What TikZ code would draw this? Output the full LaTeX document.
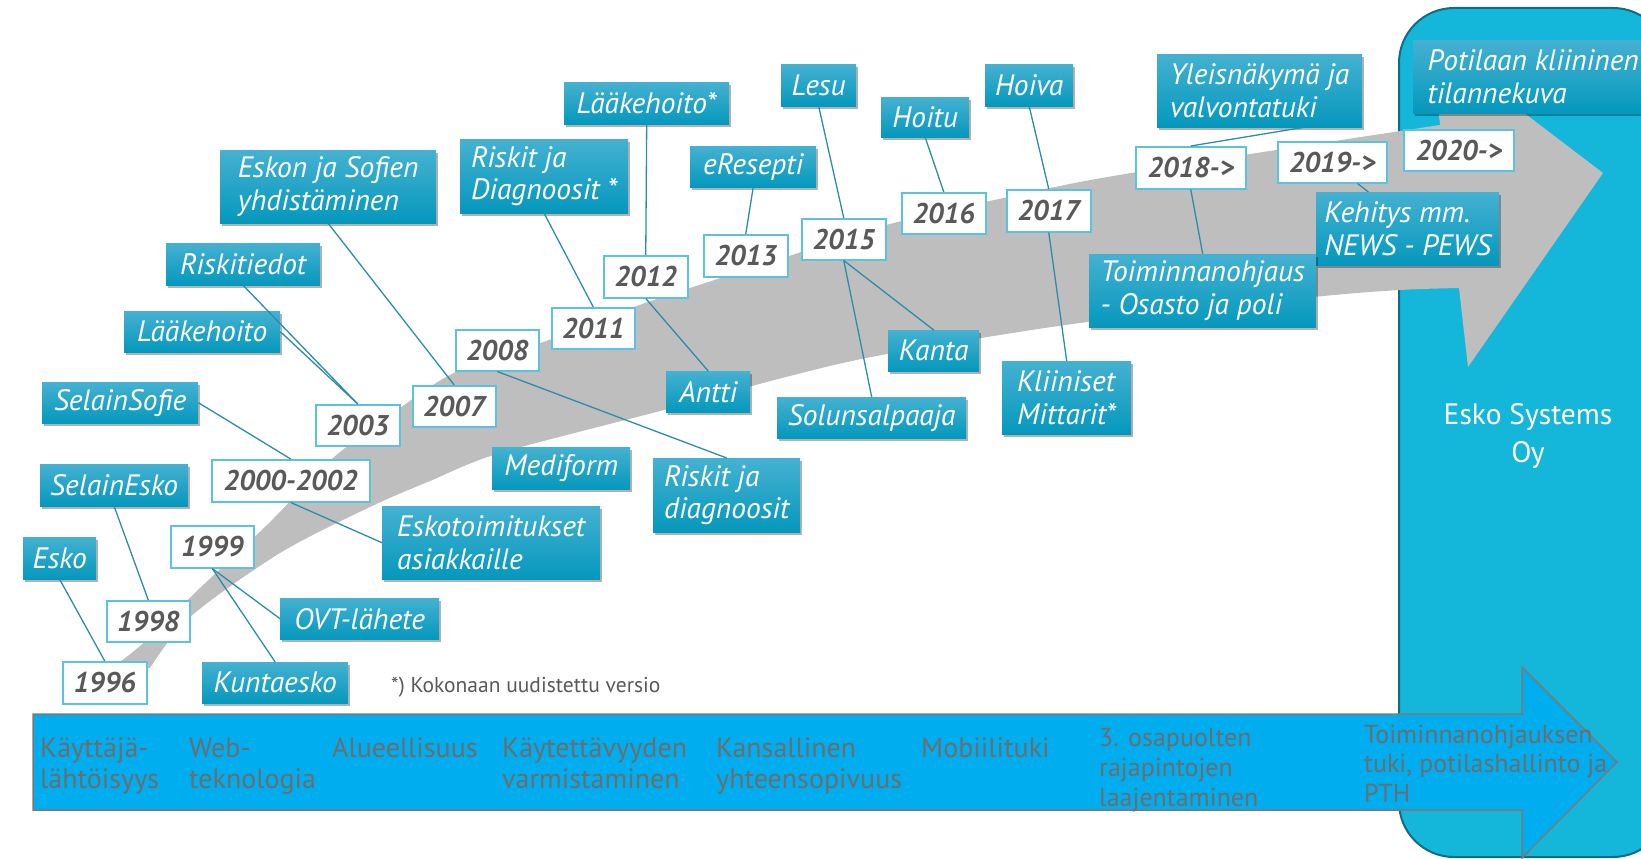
\documentclass[tikz,border=0pt]{standalone}
\usepackage{fontspec}
\setmainfont{PT Sans}
\usetikzlibrary{positioning, shadows}

\definecolor{lbltop}{HTML}{45B1D1}
\definecolor{lblbot}{HTML}{0498BD}
\definecolor{yrline}{HTML}{5BC3DF}
\definecolor{yrtext}{HTML}{595959}
\definecolor{tieline}{HTML}{2C8DA6}
\definecolor{bandgray}{HTML}{BEBEBE}
\definecolor{firmfill}{HTML}{14B6DA}
\definecolor{firmline}{HTML}{0F6E86}
\definecolor{barfill}{HTML}{00AEEF}
\definecolor{barline}{HTML}{7A7A7A}
\definecolor{bartext}{HTML}{6D6D6D}

\begin{document}
\begin{tikzpicture}[x=1pt, y=-1pt,
        lbl/.style = {rectangle, anchor=north west, inner sep=0pt, align=left,
                      top color=lbltop, bottom color=lblbot, text=white,
                      font=\fontsize{29.5}{32.5}\selectfont\itshape,
                      drop shadow={shadow xshift=2pt, shadow yshift=-3pt, fill=black, opacity=.3}},
         yr/.style = {rectangle, anchor=north west, inner sep=0pt, draw=yrline, line width=1.5pt,
                      fill=white, text=yrtext, font=\fontsize{28.5}{30}\selectfont\bfseries\itshape},
        tie/.style = {draw=tieline, line width=1.3pt},
      theme/.style = {anchor=base west, inner sep=0pt, align=left, text=bartext,
                      font=\fontsize{28}{31}\selectfont},
       firm/.style = {align=center, text=white, font=\fontsize{29.5}{38}\selectfont},
       note/.style = {anchor=west, inner sep=0pt, text=yrtext, font=\fontsize{21.5}{24}\selectfont}
                        ]
\useasboundingbox (0,0) rectangle (1641,859);
\clip (0,0) rectangle (1641,859);

\draw[fill=firmfill, draw=firmline, line width=2pt, rounded corners=55pt] (1399,8) rectangle (1668,857);

\fill[bandgray] plot[smooth, tension=0.5] coordinates {(112,668) (147,640) (200,588) (267,525) (333,458) (400,408) (456,372) (549,340) (648,302) (786,257) (886,225) (1050,188) (1137,172) (1276,150) (1440,125)}
   -- (1431,42) -- (1603,173) -- (1468,367) -- (1459,288)
   -- plot[smooth, tension=0.5] coordinates {(1459,288) (1400,290) (1314,297) (1080,323) (882,355) (786,377) (664,410) (500,453) (430,481) (370,507) (280,553) (190,617) (150,668)} -- cycle;

\draw[fill=barfill, draw=barline, line width=1.5pt] (33,714) -- (1522,714) -- (1522,667) -- (1617,762) -- (1522,858) -- (1522,810) -- (33,810) -- cycle;

\node[theme] (kaytto)  at (40,788)   {Käyttäjä-\\lähtöisyys};
\node[theme] (web)     at (189,788)  {Web-\\teknologia};
\node[theme] (alue)    at (332,757)  {Alueellisuus};
\node[theme] (kaytett) at (502,788)  {Käytettävyyden\\varmistaminen};
\node[theme] (kansal)  at (716,788)  {Kansallinen\\yhteensopivuus};
\node[theme] (mobiili) at (921,757)  {Mobiilituki};
\node[theme, font=\fontsize{26}{30}\selectfont] (rajap) at (1099,806) {3. osapuolten\\rajapintojen\\laajentaminen};
\node[theme, font=\fontsize{26}{29.5}\selectfont] (toimtuki) at (1364,802) {Toiminnanohjauksen\\tuki, potilashallinto ja\\PTH};

\node[firm] (firmname) at (1528,436) {Esko Systems\\Oy};
\node[note] (footnote) at (391,687) {*) Kokonaan uudistettu versio};

\node[yr, minimum width=84,  minimum height=42] (y1996) at (62,661)   {1996};
\node[yr, minimum width=83,  minimum height=41] (y1998) at (106,600)  {1998};
\node[yr, minimum width=83,  minimum height=42] (y1999) at (170,525)  {1999};
\node[yr, minimum width=158, minimum height=42] (y2000) at (211,459)  {2000-2002};
\node[yr, minimum width=84,  minimum height=41] (y2003) at (315,404)  {2003};
\node[yr, minimum width=83,  minimum height=41] (y2007) at (412,385)  {2007};
\node[yr, minimum width=83,  minimum height=41] (y2008) at (455,329)  {2008};
\node[yr, minimum width=83,  minimum height=41] (y2011) at (551,307)  {2011};
\node[yr, minimum width=84,  minimum height=42] (y2012) at (603,255)  {2012};
\node[yr, minimum width=84,  minimum height=42] (y2013) at (703,234)  {2013};
\node[yr, minimum width=84,  minimum height=41] (y2015) at (801,218)  {2015};
\node[yr, minimum width=84,  minimum height=41] (y2016) at (901,192)  {2016};
\node[yr, minimum width=84,  minimum height=42] (y2017) at (1006,189) {2017};
\node[yr, minimum width=110, minimum height=42] (y2018) at (1135,146) {2018->};
\node[yr, minimum width=109, minimum height=41] (y2019) at (1277,141) {2019->};
\node[yr, minimum width=110, minimum height=41] (y2020) at (1403,129) {2020->};

\node[lbl, minimum width=73,  minimum height=42] (esko)        at (23,537)   {Esko};
\node[lbl, minimum width=148, minimum height=42] (selesko)     at (40,464)   {SelainEsko};
\node[lbl, minimum width=156, minimum height=41] (selsofie)    at (42,382)   {SelainSofie};
\node[lbl, minimum width=156, minimum height=41] (laake)       at (124,311)  {Lääkehoito};
\node[lbl, minimum width=154, minimum height=42] (riskit)      at (166,243)  {Riskitiedot};
\node[lbl, minimum width=216, minimum height=73] (eskonsofien) at (220,150)  {Eskon ja Sofien\\yhdistäminen};
\node[lbl, minimum width=168, minimum height=74] (riskdiag)    at (460,139)  {Riskit ja\\Diagnoosit *};
\node[lbl, minimum width=165, minimum height=42] (laakeuusi)   at (564,82)   {Lääkehoito*};
\node[lbl, minimum width=126, minimum height=41] (eresepti)    at (690,146)  {eResepti};
\node[lbl, minimum width=75,  minimum height=42] (lesu)        at (781,64)   {Lesu};
\node[lbl, minimum width=88,  minimum height=40] (hoitu)       at (881,97)   {Hoitu};
\node[lbl, minimum width=88,  minimum height=42] (hoiva)       at (985,64)   {Hoiva};
\node[lbl, minimum width=205, minimum height=73] (yleis)       at (1157,54)  {Yleisnäkymä ja\\valvontatuki};
\node[lbl, minimum width=240, minimum height=73] (potilas)     at (1413,40)  {Potilaan kliininen\\tilannekuva};
\node[lbl, minimum width=183, minimum height=73] (kehitys)     at (1316,192) {Kehitys mm.\\NEWS - PEWS};
\node[lbl, minimum width=227, minimum height=73] (toim)        at (1089,254) {Toiminnanohjaus\\- Osasto ja poli};
\node[lbl, minimum width=129, minimum height=73] (kliiniset)   at (1002,361) {Kliiniset\\Mittarit*};
\node[lbl, minimum width=91,  minimum height=41] (kanta)       at (888,330)  {Kanta};
\node[lbl, minimum width=189, minimum height=41] (solu)        at (777,397)  {Solunsalpaaja};
\node[lbl, minimum width=84,  minimum height=41] (antti)       at (666,371)  {Antti};
\node[lbl, minimum width=147, minimum height=74] (riskdiag2)   at (653,458)  {Riskit ja\\diagnoosit};
\node[lbl, minimum width=138, minimum height=42] (mediform)    at (492,447)  {Mediform};
\node[lbl, minimum width=218, minimum height=73] (eskotoim)    at (382,506)  {Eskotoimitukset\\asiakkaille};
\node[lbl, minimum width=159, minimum height=41] (ovt)         at (280,598)  {OVT-lähete};
\node[lbl, minimum width=146, minimum height=41] (kuntaesko)   at (202,662)  {Kuntaesko};

\draw[tie] (esko.south) -- (y1996.north);
\draw[tie] (selesko.south) -- (y1998.north);
\draw[tie] (selsofie.east) -- (y2000.north);
\draw[tie] (laake.east) -- (y2003.north);
\draw[tie] (riskit.south) -- (y2003.north);
\draw[tie] (eskonsofien.south) -- (y2007.north);
\draw[tie] (y2000.south) -- (eskotoim.west);
\draw[tie] (y1999.south) -- (ovt.west);
\draw[tie] (y1999.south) -- (kuntaesko.north);
\draw[tie] (y2008.south) -- (riskdiag2.north);
\draw[tie] (riskdiag.south) -- (y2011.north);
\draw[tie] (laakeuusi.south) -- (y2012.north);
\draw[tie] (eresepti.south) -- (y2013.north);
\draw[tie] (lesu.south) -- (y2015.north);
\draw[tie] (hoitu.south) -- (y2016.north);
\draw[tie] (hoiva.south) -- (y2017.north);
\draw[tie] (y2012.south) -- (antti.north);
\draw[tie] (y2015.south) -- (kanta.north);
\draw[tie] (y2015.south) -- (solu.north);
\draw[tie] (y2017.south) -- (kliiniset.north);
\draw[tie] (yleis.-40) -- (y2018.north);
\draw[tie] (y2018.south) -- (toim.north);
\draw[tie] (y2019.-40) -- (kehitys.137);
\end{tikzpicture}
\end{document}
